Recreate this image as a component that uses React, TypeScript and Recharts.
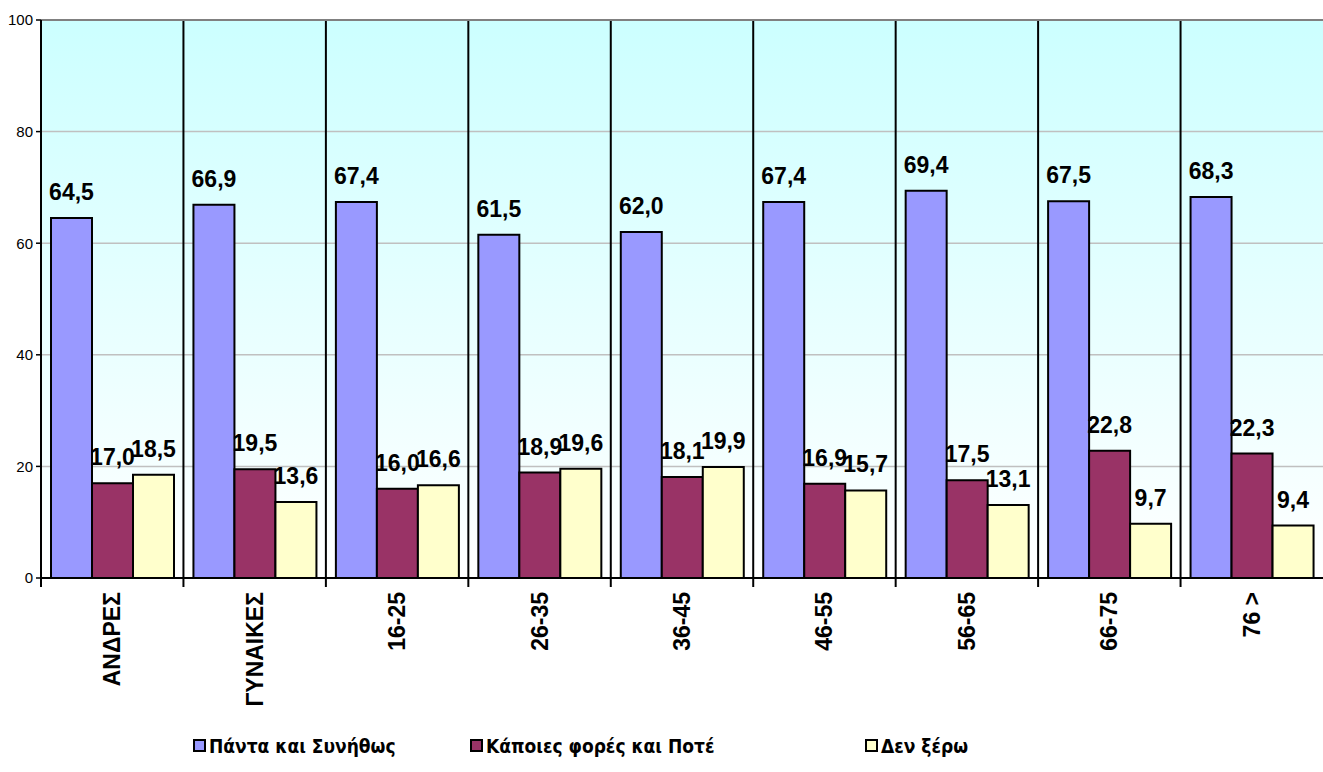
import React from "react";
import {
  BarChart,
  Bar,
  XAxis,
  YAxis,
  CartesianGrid,
  Legend,
  LabelList,
  ReferenceLine,
} from "recharts";

const categories = ["ΑΝΔΡΕΣ", "ΓΥΝΑΙΚΕΣ", "16-25", "26-35", "36-45", "46-55", "56-65", "66-75", "76 >"];
const always = [64.5, 66.9, 67.4, 61.5, 62.0, 67.4, 69.4, 67.5, 68.3];
const sometimes = [17.0, 19.5, 16.0, 18.9, 18.1, 16.9, 17.5, 22.8, 22.3];
const dontKnow = [18.5, 13.6, 16.6, 19.6, 19.9, 15.7, 13.1, 9.7, 9.4];
const yTicks = [0, 20, 40, 60, 80, 100];

const seriesNames = ["Πάντα και Συνήθως", "Κάποιες φορές και Ποτέ", "Δεν ξέρω"];
const colors = ["#9999ff", "#993366", "#ffffcc"];

const data = categories.map((name, i) => ({
  name,
  always: always[i],
  sometimes: sometimes[i],
  dontKnow: dontKnow[i],
}));

const W = 1323;
const H = 772;
const FONT = "Liberation Sans, Arial, sans-serif";
const LEGEND_FONT = "DejaVu Sans Condensed, Liberation Sans, sans-serif";
const fmt = (v: any) => Number(v).toFixed(1).replace(".", ",");

function CategoryTick(props: any) {
  const { x, y, payload } = props;
  const band = (W - 41) / categories.length;
  return (
    <g>
      <line x1={x - band / 2} y1={y} x2={x - band / 2} y2={y + 9} stroke="#000" strokeWidth={2} />
      <text
        transform={`translate(${x},${y + 14}) rotate(-90)`}
        textAnchor="end"
        dominantBaseline="central"
        fontFamily={FONT}
        fontWeight={700}
        fontSize={23}
        fill="#000"
      >
        {payload.value}
      </text>
    </g>
  );
}

// legend drawn as svg so it matches the bold axis text
function LegendBox() {
  const starts = [193, 470, 865];
  return (
    <svg width={W} height={54} style={{ display: "block" }}>
      {seriesNames.map((n, i) => (
        <g key={n}>
          <rect x={starts[i] + 1} y={22} width={11} height={11} fill={colors[i]} stroke="#000" strokeWidth={2} />
          <text
            x={starts[i] + 16}
            y={28}
            dominantBaseline="central"
            fontFamily={LEGEND_FONT}
            fontWeight={700}
            fontSize={19}
            fill="#000"
          >
            {n}
          </text>
        </g>
      ))}
    </svg>
  );
}

export default function App() {
  const labelStyle = { fontFamily: FONT, fontWeight: 700, fontSize: 23, fill: "#000" };
  return (
    <div style={{ position: "absolute", left: 0, top: 0, width: W, height: H, background: "#fff" }}>
      <BarChart
        width={W}
        height={H}
        data={data}
        margin={{ top: 20, right: 0, left: 0, bottom: 0 }}
        barCategoryGap={10}
        barGap={0}
      >
        <defs>
          <linearGradient id="bgGrad" x1="0" y1="0" x2="0" y2="1">
            <stop offset="0%" stopColor="#ccffff" />
            <stop offset="100%" stopColor="#ffffff" />
          </linearGradient>
        </defs>
        <CartesianGrid vertical={false} stroke="#c0c0c0" strokeWidth={1.5} fill="url(#bgGrad)" />
        <CartesianGrid
          horizontal={false}
          stroke="#000"
          strokeWidth={2}
          verticalCoordinatesGenerator={({ offset }: any) =>
            categories.map((_, i) => offset.left + (i * offset.width) / categories.length)
          }
        />
        <ReferenceLine y={100} stroke="#808080" strokeWidth={2} />
        <XAxis
          dataKey="name"
          height={140}
          axisLine={{ stroke: "#000", strokeWidth: 2 }}
          tickLine={false}
          tickSize={0}
          tickMargin={0}
          interval={0}
          tick={<CategoryTick />}
        />
        <YAxis
          domain={[0, 100]}
          ticks={yTicks}
          width={41}
          axisLine={{ stroke: "#000", strokeWidth: 2 }}
          tickLine={{ stroke: "#000", strokeWidth: 1.5 }}
          tickSize={5}
          tickMargin={3}
          tick={{ fontFamily: FONT, fontSize: 15, fill: "#000" }}
        />
        <Legend verticalAlign="bottom" content={<LegendBox />} />
        <Bar dataKey="always" name={seriesNames[0]} fill={colors[0]} stroke="#000" strokeWidth={2} isAnimationActive={false}>
          <LabelList dataKey="always" position="top" offset={18} formatter={fmt} style={labelStyle} />
        </Bar>
        <Bar dataKey="sometimes" name={seriesNames[1]} fill={colors[1]} stroke="#000" strokeWidth={2} isAnimationActive={false}>
          <LabelList dataKey="sometimes" position="top" offset={18} formatter={fmt} style={labelStyle} />
        </Bar>
        <Bar dataKey="dontKnow" name={seriesNames[2]} fill={colors[2]} stroke="#000" strokeWidth={2} isAnimationActive={false}>
          <LabelList dataKey="dontKnow" position="top" offset={18} formatter={fmt} style={labelStyle} />
        </Bar>
      </BarChart>
    </div>
  );
}
